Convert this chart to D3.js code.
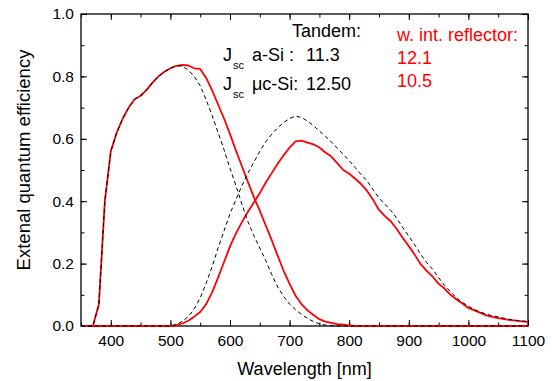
<!DOCTYPE html>
<html>
<head>
<meta charset="utf-8">
<script src="https://cdn.jsdelivr.net/npm/d3@7"></script>
<style>
body{margin:0;background:#fff}
text{font-family:"Liberation Sans",Arial,sans-serif}
</style>
</head>
<body>
<script>
/*data, 10 nm steps*/
var wavelength = d3.range(350, 1101, 10)

var aSiTandem = [0,0,0,0.07,0.40,0.56,0.62,0.665,0.70,0.727,0.738,0.757,0.78,0.80,0.815,0.826,0.834,
	0.833,0.82,0.80,0.77,0.725,0.675,0.62,0.565,0.505,0.45,0.39,0.335,0.29,0.25,0.21,0.165,0.125,0.095,
	0.07,0.052,0.037,0.025,0.014,0.007,0.003,0.001,
	0,0,0,0,0,0,0,0,0,0,0,0,0,0,0,0,0,0,0,0,0,0,0,0,0,0,0,0,0,0,0,0,0,0]

var aSiReflector = [0,0,0,0.07,0.40,0.56,0.62,0.665,0.70,0.727,0.738,0.757,0.78,0.80,0.815,0.826,0.834,
	0.837,0.835,0.826,0.824,0.795,0.755,0.71,0.665,0.615,0.562,0.512,0.462,0.413,0.37,0.322,0.275,0.225,0.177,
	0.135,0.097,0.07,0.05,0.035,0.022,0.014,0.01,0.006,0.004,0.002,
	0,0,0,0,0,0,0,0,0,0,0,0,0,0,0,0,0,0,0,0,0,0,0,0,0,0,0,0,0,0]

var ucSiTandem = [0,0,0,0,0,0,0,0,0,0,0,0,0,0,0,0,
	0.005,0.015,0.03,0.055,0.09,0.137,0.19,0.25,0.305,0.36,0.405,0.45,0.49,0.525,0.56,0.59,0.615,0.635,
	0.652,0.665,0.673,0.668,0.657,0.642,0.625,0.608,0.59,0.57,0.55,0.53,0.508,0.485,0.465,0.437,0.41,
	0.39,0.37,0.345,0.315,0.288,0.26,0.23,0.203,0.182,0.155,0.13,0.11,0.09,0.076,0.063,0.053,0.045,
	0.038,0.033,0.029,0.025,0.021,0.018,0.016,0.014]

var ucSiReflector = [0,0,0,0,0,0,0,0,0,0,0,0,0,0,0,0,
	0.003,0.008,0.017,0.03,0.045,0.07,0.108,0.155,0.205,0.255,0.297,0.333,0.366,0.396,0.426,0.46,0.49,0.52,
	0.547,0.572,0.592,0.594,0.588,0.582,0.572,0.556,0.543,0.522,0.5,0.488,0.472,0.455,0.433,0.405,0.372,
	0.352,0.335,0.31,0.282,0.256,0.228,0.198,0.177,0.158,0.135,0.12,0.1,0.085,0.072,0.058,0.05,0.042,
	0.034,0.029,0.025,0.022,0.019,0.017,0.015,0.013]

var xTicks = [400, 500, 600, 700, 800, 900, 1000, 1100]
var xMinor = d3.range(350, 1101, 50)
var yTicks = [0, 0.2, 0.4, 0.6, 0.8, 1.0]
var yMinor = d3.range(0, 1.01, 0.1)

var tandemLabels = ["a-Si :", "\u03bcc-Si:"]
var tandemValues = ["11.3", "12.50"]
var reflectorValues = ["12.1", "10.5"]

/*canvas*/
var width = 552, height = 381
var plotLeft = 81, plotRight = 528, plotTop = 14, plotBottom = 326

var svg = d3.select("body").append("svg")
			.attr("width", width)
			.attr("height", height)

svg.append("rect").attr("width", width).attr("height", height).attr("fill", "#fff")

var xScale = d3.scaleLinear().domain([350, 1100]).range([plotLeft, plotRight])
var yScale = d3.scaleLinear().domain([0, 1]).range([plotBottom, plotTop])

/*axes, ticks pointing inward*/
function drawAxes(){
	var fmtY = d3.format(".1f")
	var fmtX = d3.format("d")

	svg.append("g").attr("transform", "translate(0," + plotBottom + ")")
		.call(d3.axisBottom(xScale).tickValues(xMinor).tickSize(-3.5).tickFormat(""))
	svg.append("g").attr("transform", "translate(0," + plotTop + ")")
		.call(d3.axisTop(xScale).tickValues(xMinor).tickSize(-3.5).tickFormat(""))
	svg.append("g").attr("transform", "translate(" + plotLeft + ",0)")
		.call(d3.axisLeft(yScale).tickValues(yMinor).tickSize(-3.5).tickFormat(""))
	svg.append("g").attr("transform", "translate(" + plotRight + ",0)")
		.call(d3.axisRight(yScale).tickValues(yMinor).tickSize(-3.5).tickFormat(""))

	svg.append("g").attr("transform", "translate(0," + plotBottom + ")")
		.call(d3.axisBottom(xScale).tickValues(xTicks).tickSizeInner(-6).tickSizeOuter(0).tickPadding(9).tickFormat(fmtX))
	svg.append("g").attr("transform", "translate(0," + plotTop + ")")
		.call(d3.axisTop(xScale).tickValues(xTicks).tickSizeInner(-6).tickSizeOuter(0).tickFormat(""))
	svg.append("g").attr("transform", "translate(" + plotLeft + ",0)")
		.call(d3.axisLeft(yScale).tickValues(yTicks).tickSizeInner(-6).tickSizeOuter(0).tickPadding(7).tickFormat(fmtY))
	svg.append("g").attr("transform", "translate(" + plotRight + ",0)")
		.call(d3.axisRight(yScale).tickValues(yTicks).tickSizeInner(-6).tickSizeOuter(0).tickFormat(""))

	svg.selectAll(".domain").remove()
	svg.selectAll(".tick line").attr("stroke", "#000").attr("stroke-width", 1)
	svg.selectAll(".tick text").attr("font-size", 15.5).attr("fill", "#000")
		.attr("font-family", "'Liberation Sans', Arial, sans-serif")

	svg.append("rect")
		.attr("x", plotLeft).attr("y", plotTop)
		.attr("width", plotRight - plotLeft).attr("height", plotBottom - plotTop)
		.attr("fill", "none").attr("stroke", "#000").attr("stroke-width", 1.3)

	svg.append("text")
		.attr("x", (plotLeft + plotRight) / 2)
		.attr("y", 375)
		.attr("text-anchor", "middle")
		.attr("font-size", 18)
		.text("Wavelength [nm]")

	svg.append("text")
		.attr("transform", "translate(30,160) rotate(-90)")
		.attr("text-anchor", "middle")
		.attr("font-size", 18.5)
		.text("Extenal quantum efficiency")
}

function drawCurves(){
	var line = d3.line()
		.x(function(d){return xScale(d[0])})
		.y(function(d){return yScale(d[1])})

	var solid = [aSiReflector, ucSiReflector]
	var dashed = [aSiTandem, ucSiTandem]

	solid.forEach(function(s){
		svg.append("path")
			.datum(d3.zip(wavelength, s))
			.attr("d", line)
			.attr("fill", "none")
			.attr("stroke", "#ff0000")
			.attr("stroke-width", 1.8)
			.attr("stroke-linejoin", "round")
	})

	dashed.forEach(function(s){
		svg.append("path")
			.datum(d3.zip(wavelength, s))
			.attr("d", line)
			.attr("fill", "none")
			.attr("stroke", "#000")
			.attr("stroke-width", 1)
			.attr("stroke-dasharray", "4,3")
	})
}

function drawNotes(){
	svg.append("text").attr("x", 292).attr("y", 37).attr("font-size", 18).text("Tandem:")

	tandemLabels.forEach(function(lbl, i){
		var y = 61 + i * 29
		var t = svg.append("text").attr("x", 223).attr("y", y).attr("font-size", 18)
		t.append("tspan").text("J")
		t.append("tspan").attr("font-size", 11).attr("dy", 8).attr("dx", 1).text("sc")
		t.append("tspan").attr("x", 252).attr("y", y).text(lbl)
		svg.append("text").attr("x", 306).attr("y", y).attr("font-size", 18).text(tandemValues[i])
	})

	svg.append("text").attr("x", 397).attr("y", 41).attr("font-size", 18)
		.attr("fill", "#ff0000").text("w. int. reflector:")

	reflectorValues.forEach(function(v, i){
		svg.append("text").attr("x", 397).attr("y", 64 + i * 23).attr("font-size", 18)
			.attr("fill", "#ff0000").text(v)
	})
}

drawAxes()
drawCurves()
drawNotes()
</script>
</body>
</html>
